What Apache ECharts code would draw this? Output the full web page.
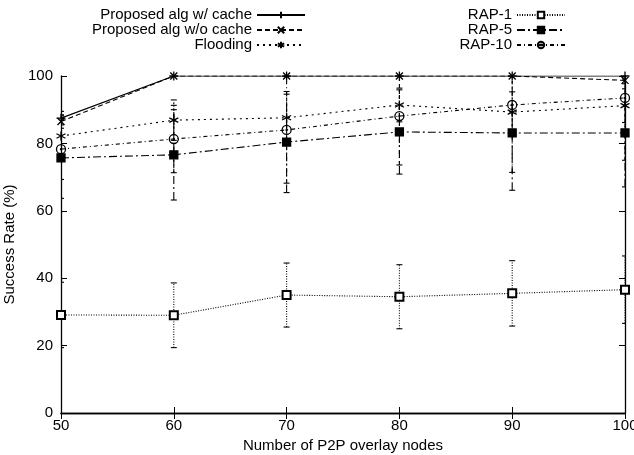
<!DOCTYPE html>
<html>
<head>
<meta charset="utf-8">
<script src="https://cdn.jsdelivr.net/npm/echarts@6/dist/echarts.min.js"></script>
<style>
  html, body { margin: 0; padding: 0; background: #fff; }
  #main { width: 634px; height: 455px; }
</style>
</head>
<body>
<div id="main"></div>
<script>
// 节点数
const nodes = [50, 60, 70, 80, 90, 100];
// 成功率 + 误差
const withCache = [87.5, 100, 100, 100, 100, 100];
const withCacheErr = [2, 0, 0, 0, 0, 0];
const withoutCache = [86.5, 100, 100, 100, 100, 98.7];
const withoutCacheErr = [2, 0, 0, 0, 0, 1];
const flooding = [82.2, 86.9, 87.6, 91.4, 89.3, 91.2];
const floodingErr = [6, 6, 7, 5, 6, 5];
const rap1 = [29.1, 29, 35, 34.5, 35.5, 36.6];
const rap1Err = [9.7, 9.6, 9.5, 9.5, 9.7, 10];
const rap5 = [75.7, 76.6, 80.4, 83.4, 83.1, 83.1];
const rap5Err = [12, 13.4, 15, 12.5, 17, 16];
const rap10 = [78.3, 81.3, 84, 88.1, 91.4, 93.5];
const rap10Err = [9, 10, 15.8, 14.5, 20, 18.5];
const yTicks = [0, 20, 40, 60, 80, 100];

const font = 'Liberation Sans, Arial, sans-serif';
const fs = 15;

const seriesDefs = [
  { name: 'Proposed alg w/ cache', data: withCache, err: withCacheErr, dash: 'solid',
    symbol: 'path://M5,0L5,10M0,5L10,5', size: 9, fill: 'none' },
  { name: 'Proposed alg w/o cache', data: withoutCache, err: withoutCacheErr, dash: [5, 3],
    symbol: 'path://M0,0L10,10M0,10L10,0', size: 7, fill: 'none' },
  { name: 'Flooding', data: flooding, err: floodingErr, dash: [2, 4],
    symbol: 'path://M5,0L5,10M0.7,2.5L9.3,7.5M0.7,7.5L9.3,2.5', size: 9, fill: 'none' },
  { name: 'RAP-1', data: rap1, err: rap1Err, dash: [1, 1.5],
    symbol: 'emptyRect', size: 8, fill: '#000' },
  { name: 'RAP-5', data: rap5, err: rap5Err, dash: [8, 3, 2, 3],
    symbol: 'rect', size: 8, fill: '#000' },
  { name: 'RAP-10', data: rap10, err: rap10Err, dash: [4, 3, 1, 3],
    symbol: 'path://M10,5A5,5,0,1,1,0,5A5,5,0,1,1,10,5ZM5.6,5A0.6,0.6,0,1,1,4.4,5A0.6,0.6,0,1,1,5.6,5Z', size: 9, fill: 'none' }
];

const series = [];
seriesDefs.forEach(d => {
  // 误差线
  series.push({
    name: d.name + ' err',
    type: 'custom',
    clip: true,
    silent: true,
    data: nodes.map((x, i) => [x, d.data[i], d.err[i]]),
    renderItem: (params, api) => {
      const x = api.value(0), y = api.value(1), e = api.value(2);
      if (!e) return null;
      const lo = api.coord([x, y - e]);
      const hi = api.coord([x, y + e]);
      const style = { stroke: '#000', lineWidth: 1.1, lineDash: d.dash === 'solid' ? null : d.dash };
      return {
        type: 'group',
        children: [
          { type: 'line', shape: { x1: lo[0], y1: lo[1], x2: hi[0], y2: hi[1] }, style },
          { type: 'line', shape: { x1: lo[0] - 3, y1: lo[1], x2: lo[0] + 3, y2: lo[1] }, style: { stroke: '#000', lineWidth: 1.1 } },
          { type: 'line', shape: { x1: hi[0] - 3, y1: hi[1], x2: hi[0] + 3, y2: hi[1] }, style: { stroke: '#000', lineWidth: 1.1 } }
        ]
      };
    }
  });
  series.push({
    name: d.name,
    type: 'line',
    data: nodes.map((x, i) => [x, d.data[i]]),
    symbol: d.symbol,
    symbolSize: d.size,
    showAllSymbol: true,
    lineStyle: { color: '#000', width: 1.1, type: d.dash },
    itemStyle: { color: d.fill, borderColor: '#000', borderWidth: 1.3 },
    emphasis: { disabled: true },
    z: 3
  });
});

const legendBase = {
  orient: 'vertical', align: 'right', top: 7.5, padding: 0,
  itemWidth: 48, itemHeight: 8, itemGap: 0,
  textStyle: { fontFamily: font, fontSize: fs, lineHeight: 15, color: '#000' }
};

const chart = echarts.init(document.getElementById('main'));
chart.setOption({
  animation: false,
  textStyle: { fontFamily: font },
  legend: [
    Object.assign({ data: seriesDefs.slice(0, 3).map(d => d.name), right: 328 }, legendBase),
    Object.assign({ data: seriesDefs.slice(3).map(d => d.name), right: 68 }, legendBase)
  ],
  grid: { left: 61, right: 9, top: 76, bottom: 42, outerBoundsMode: 'none', containLabel: false },
  xAxis: [
    {
      type: 'value', min: 50, max: 100, interval: 10,
      name: 'Number of P2P overlay nodes', nameLocation: 'middle', nameGap: 24,
      nameTextStyle: { fontFamily: font, fontSize: fs, color: '#000' },
      axisLine: { lineStyle: { color: '#000', width: 1.3 } },
      axisTick: { inside: true, length: 6, lineStyle: { color: '#000' } },
      axisLabel: { fontFamily: font, fontSize: fs, color: '#000', margin: 5 },
      splitLine: { show: false }
    },
    {
      type: 'value', min: 50, max: 100, interval: 10, position: 'top',
      axisLine: { lineStyle: { color: '#000', width: 1.3 } },
      axisTick: { inside: true, length: 6, lineStyle: { color: '#000' } },
      axisLabel: { show: false }, splitLine: { show: false }
    }
  ],
  yAxis: [
    {
      type: 'value', min: yTicks[0], max: yTicks[yTicks.length - 1], interval: 20,
      name: 'Success Rate (%)', nameLocation: 'middle', nameGap: 40,
      nameTextStyle: { fontFamily: font, fontSize: fs, color: '#000' },
      axisLine: { show: true, lineStyle: { color: '#000', width: 1.3 } },
      axisTick: { show: true, inside: true, length: 6, lineStyle: { color: '#000' } },
      axisLabel: { fontFamily: font, fontSize: fs, color: '#000', margin: 8 },
      splitLine: { show: false }
    },
    {
      type: 'value', min: yTicks[0], max: yTicks[yTicks.length - 1], interval: 20, position: 'right',
      axisLine: { show: true, lineStyle: { color: '#000', width: 1.3 } },
      axisTick: { show: true, inside: true, length: 6, lineStyle: { color: '#000' } },
      axisLabel: { show: false }, splitLine: { show: false }
    }
  ],
  series
});
</script>
</body>
</html>
